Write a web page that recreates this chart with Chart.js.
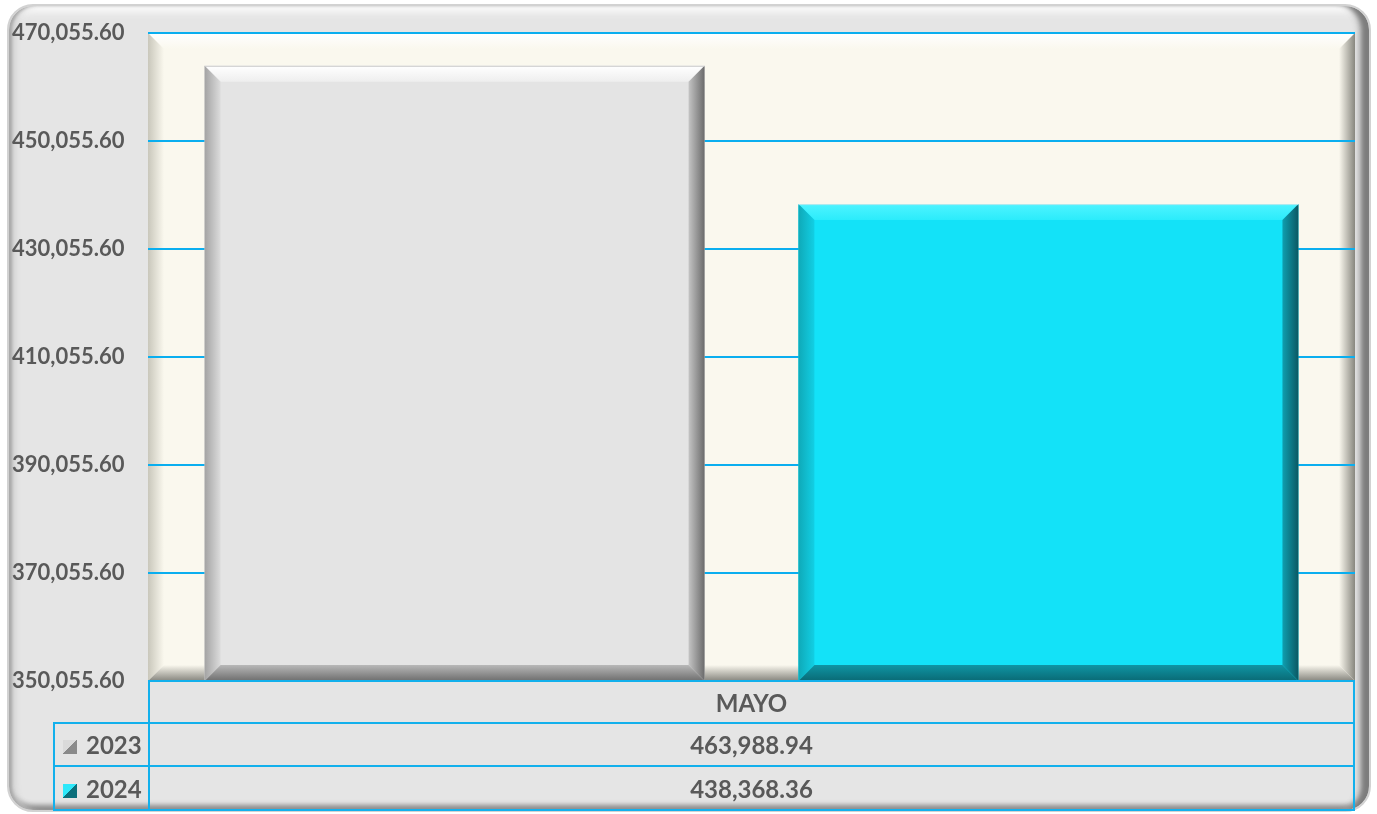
<!DOCTYPE html>
<html>
<head>
<meta charset="utf-8">
<script src="https://cdn.jsdelivr.net/npm/chart.js@4"></script>
<style>
  html, body { margin: 0; padding: 0; background: #ffffff; }
  #wrap { position: relative; width: 1377px; height: 814px; overflow: hidden; }
  #frame {
    position: absolute; left: 7px; top: 4px; width: 1364px; height: 808px;
    box-sizing: border-box; border-radius: 26px; background: #e5e5e5;
    border: 2px solid #d2d2d2;
    box-shadow:
      inset 4px 0 3px -1px #a9a9a9,
      inset 10px 0 6px -4px #cfcfcf,
      inset -10px 0 4px -3px #7d7d7d,
      inset -16px 0 6px -6px #b0b0b0,
      inset 0 10px 6px -3px #f7f7f7,
      inset 0 -8px 5px -3px #8a8a8a;
  }
  canvas { position: absolute; left: 0; top: 0; }
  #tbl {
    position: absolute; border-collapse: collapse; table-layout: fixed;
    font-family: Lato, "Open Sans", sans-serif; font-weight: bold; color: #595959;
    font-size: 24px;
  }
  #tbl td { border: 2px solid #12b0ec; padding: 0; text-align: center; vertical-align: middle; }
  #tbl td.blank { border-top: none; border-left: none; }
  #tbl td.lab { text-align: left; padding-left: 8px; white-space: nowrap; }
  .key { display: inline-block; width: 14px; height: 14px; margin-right: 9px; vertical-align: 0px; }
</style>
</head>
<body>
<div id="wrap">
  <div id="frame"></div>
  <canvas id="c" width="1377" height="814"></canvas>
</div>
<script>
// ---- data ----
const categories = ["MAYO"];
const seriesNames = ["2023", "2024"];
const values2023 = [463988.94];
const values2024 = [438368.36];
const yTickValues = [350055.60, 370055.60, 390055.60, 410055.60, 430055.60, 450055.60, 470055.60];

const baseColors = ["#e4e4e4", "#13e2f8"];
const bevelStyles = [
  { top: ["#ffffff", "#eeeeee"], left: ["#a3a3a3", "#dcdcdc"], right: ["#c4c4c4", "#6b6b6b"], bottom: ["#b8b8b8", "#6e6e6e"], edge: "#c8c8c8" },
  { top: ["#4ef3ff", "#2becfb"], left: ["#0fa9b8", "#12cfe4"], right: ["#0f9fb0", "#0a5863"], bottom: ["#0f95a4", "#0a6a75"], edge: "#b9e9ee" }
];
const keyGradients = [
  "linear-gradient(to bottom right, #dadada 50%, #8a8a8a 50%)",
  "linear-gradient(to bottom right, #2ee8fa 50%, #0b6f7b 50%)"
];

function fmt(v) {
  return v.toLocaleString("en-US", { minimumFractionDigits: 2, maximumFractionDigits: 2 });
}

function bevel(ctx, L, T, R, B, w, st) {
  let g;
  g = ctx.createLinearGradient(0, T, 0, T + w);
  g.addColorStop(0, st.top[0]); g.addColorStop(1, st.top[1]);
  ctx.fillStyle = g; ctx.beginPath();
  ctx.moveTo(L, T); ctx.lineTo(R, T); ctx.lineTo(R - w, T + w); ctx.lineTo(L + w, T + w); ctx.closePath(); ctx.fill();
  g = ctx.createLinearGradient(L, 0, L + w, 0);
  g.addColorStop(0, st.left[0]); g.addColorStop(1, st.left[1]);
  ctx.fillStyle = g; ctx.beginPath();
  ctx.moveTo(L, T); ctx.lineTo(L + w, T + w); ctx.lineTo(L + w, B - w); ctx.lineTo(L, B); ctx.closePath(); ctx.fill();
  g = ctx.createLinearGradient(R - w, 0, R, 0);
  g.addColorStop(0, st.right[0]); g.addColorStop(1, st.right[1]);
  ctx.fillStyle = g; ctx.beginPath();
  ctx.moveTo(R, T); ctx.lineTo(R, B); ctx.lineTo(R - w, B - w); ctx.lineTo(R - w, T + w); ctx.closePath(); ctx.fill();
  g = ctx.createLinearGradient(0, B - w, 0, B);
  g.addColorStop(0, st.bottom[0]); g.addColorStop(1, st.bottom[1]);
  ctx.fillStyle = g; ctx.beginPath();
  ctx.moveTo(L, B); ctx.lineTo(L + w, B - w); ctx.lineTo(R - w, B - w); ctx.lineTo(R, B); ctx.closePath(); ctx.fill();
  if (st.edge) {
    ctx.strokeStyle = st.edge; ctx.lineWidth = 1;
    ctx.beginPath(); ctx.moveTo(L, T + 0.5); ctx.lineTo(R, T + 0.5); ctx.stroke();
  }
}

const plotBevelPlugin = {
  id: "plotBevel",
  beforeDraw(chart) {
    const { ctx, chartArea: a } = chart;
    ctx.save();
    ctx.fillStyle = "#faf8ee";
    ctx.fillRect(a.left, a.top, a.right - a.left, a.bottom - a.top);
    bevel(ctx, a.left, a.top, a.right, a.bottom, 16, {
      top: ["#ffffff", "#faf8ee"], left: ["#c9c7bb", "#faf8ee"],
      right: ["#faf8ee", "#88877f"], bottom: ["#faf8ee", "#86857e"]
    });
    ctx.restore();
  }
};

const barBevelPlugin = {
  id: "barBevel",
  afterDatasetsDraw(chart) {
    const ctx = chart.ctx;
    const a = chart.chartArea;
    ctx.save();
    chart.data.datasets.forEach((ds, di) => {
      chart.getDatasetMeta(di).data.forEach(el => {
        const p = el.getProps(["x", "y", "base", "width"], true);
        const L = p.x - p.width / 2, R = p.x + p.width / 2;
        const B = Math.min(p.base, a.bottom);
        const T = Math.max(p.y, a.top);
        bevel(ctx, L, T, R, B, 16, bevelStyles[di]);
      });
    });
    ctx.restore();
  }
};

const tablePlugin = {
  id: "dataTable",
  afterRender(chart) {
    if (document.getElementById("tbl")) return;
    const a = chart.chartArea;
    const keyW = 95;
    const t = document.createElement("table");
    t.id = "tbl";
    t.style.left = (a.left - keyW) + "px";
    t.style.top = (a.bottom - 1) + "px";
    t.style.width = (a.right - a.left + keyW) + "px";
    const heights = [42, 43, 44];
    let html = '<colgroup><col style="width:' + keyW + 'px"><col></colgroup>';
    html += '<tr style="height:' + heights[0] + 'px"><td class="blank"></td>' +
      categories.map(c => '<td>' + c + '</td>').join("") + '</tr>';
    const rows = [values2023, values2024];
    seriesNames.forEach((n, i) => {
      html += '<tr style="height:' + heights[i + 1] + 'px"><td class="lab"><span class="key" style="background:' +
        keyGradients[i] + '"></span>' + n + '</td>' +
        rows[i].map(v => '<td>' + fmt(v) + '</td>').join("") + '</tr>';
    });
    t.innerHTML = html;
    document.getElementById("wrap").appendChild(t);
  }
};

new Chart(document.getElementById("c"), {
  type: "bar",
  data: {
    labels: categories,
    datasets: [
      { label: seriesNames[0], data: values2023, backgroundColor: baseColors[0] },
      { label: seriesNames[1], data: values2024, backgroundColor: baseColors[1] }
    ]
  },
  options: {
    responsive: false,
    animation: false,
    layout: { padding: { left: 12, top: 33, right: 22, bottom: 133 } },
    datasets: { bar: { categoryPercentage: 0.984, barPercentage: 0.842 } },
    plugins: { legend: { display: false }, tooltip: { enabled: false } },
    scales: {
      x: { display: false },
      y: {
        min: yTickValues[0],
        max: yTickValues[yTickValues.length - 1],
        afterBuildTicks(axis) { axis.ticks = yTickValues.map(v => ({ value: v })); },
        afterFit(axis) { axis.width = 136; },
        border: { display: false },
        grid: { color: "#0aaeef", lineWidth: 2, drawTicks: false },
        ticks: {
          padding: 0,
          crossAlign: "far",
          color: "#595959",
          font: { family: "Lato", weight: "bold", size: 22 },
          callback: v => fmt(v)
        }
      }
    }
  },
  plugins: [plotBevelPlugin, barBevelPlugin, tablePlugin]
});
</script>
</body>
</html>
